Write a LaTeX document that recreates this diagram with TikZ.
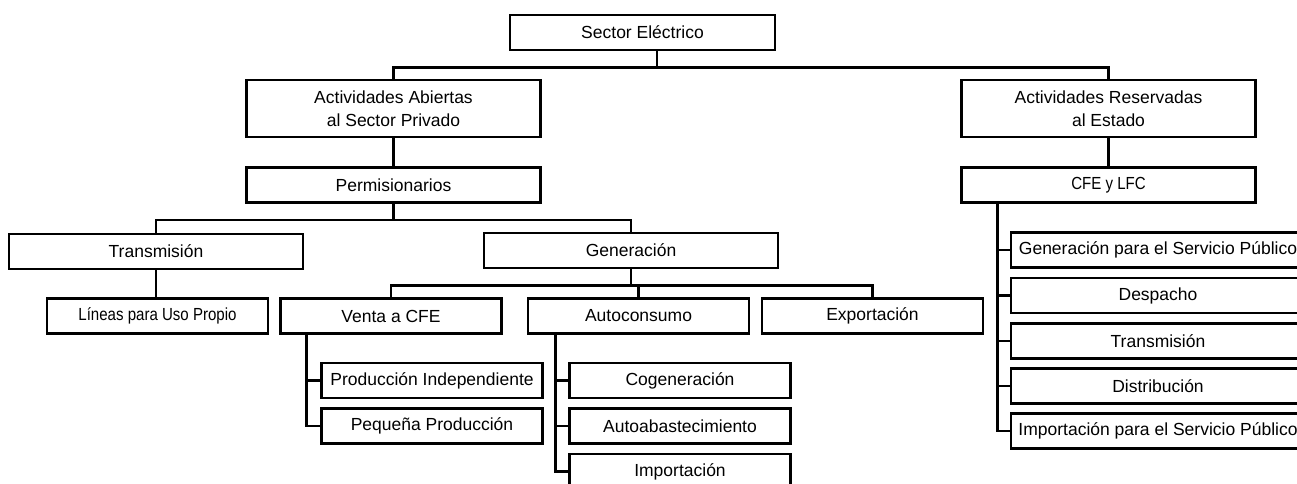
\documentclass[tikz,border=0pt]{standalone}
\usepackage{fontspec}
\usepackage{graphicx}
\setmainfont{Liberation Sans}
\newcommand{\squeezed}[1]{\scalebox{0.86}[1]{#1}}

\begin{document}
\begin{tikzpicture}[x=1pt, y=-1pt, line width=2.9pt,
    box/.style={draw, inner sep=0pt, align=center, minimum height=35pt,
      font=\fontsize{17.5}{23}\selectfont},
    wide/.style={box, minimum width=294pt},
    narrow/.style={box, minimum width=221pt}]
  \clip (0,0) rectangle (1297,483);
  \node[box, minimum width=265pt] (sector) at (642.5,32.5) {Sector Eléctrico};
  \node[wide, minimum height=57pt] (abiertas) at (393.5,108.5)
    {Actividades Abiertas\\al Sector Privado};
  \node[wide, minimum height=57pt] (reservadas) at (1108.5,108.5)
    {Actividades Reservadas\\al Estado};
  \node[wide] (permis) at (393.5,185) {Permisionarios};
  \node[wide] (cfe) at (1108.5,185) {\squeezed{CFE y LFC}};
  \node[wide] (transm) at (156,251.5) {Transmisión};
  \node[wide] (gen) at (631,250.5) {Generación};
  \node[narrow] (lineas) at (157.5,316) {\squeezed{Líneas para Uso Propio}};
  \node[narrow] (venta) at (391,316) {Venta a CFE};
  \node[narrow] (auto) at (638.5,316) {Autoconsumo};
  \node[narrow] (export) at (872.5,316) {Exportación};
  \node[narrow] (prodind) at (432,380.5) {Producción Independiente};
  \node[narrow] (pequena) at (432,426) {Pequeña Producción};
  \node[narrow] (cogen) at (680,380.5) {Cogeneración};
  \node[narrow] (autoab) at (680,426) {Autoabastecimiento};
  \node[narrow] (import) at (680,471.5) {Importación};
  \node[wide] (gensp) at (1158,250) {Generación para el Servicio Público};
  \node[wide] (despacho) at (1158,295.5) {Despacho};
  \node[wide] (transmsp) at (1158,341) {Transmisión};
  \node[wide] (distrib) at (1158,386) {Distribución};
  \node[wide] (importsp) at (1158,431) {Importación para el Servicio Público};

  \draw ([xshift=14.5pt]sector.south) -- ++(0,16) coordinate (j1);
  \draw (abiertas.north) |- (j1) -| (reservadas.north);
  \draw (abiertas.south) -- (permis.north);
  \draw (reservadas.south) -- (cfe.north);

  \draw (permis.south) -- ++(0,16) coordinate (j2);
  \draw (transm.north) |- (j2) -| (gen.north);
  \draw (transm.south) -- (transm.south |- lineas.north);

  \draw (gen.south) -- ++(0,16) coordinate (j3);
  \draw (venta.north) |- (j3) -| (export.north);
  \draw (auto.north) -- (auto.north |- j3);

  \coordinate (v1) at ([xshift=27pt]venta.south west);
  \draw (v1) |- (pequena.west);
  \draw (prodind.west) -- (prodind.west -| v1);

  \coordinate (v2) at ([xshift=29pt]auto.south west);
  \draw (v2) |- (import.west);
  \draw (cogen.west) -- (cogen.west -| v2);
  \draw (autoab.west) -- (autoab.west -| v2);

  \coordinate (v3) at ([xshift=37pt]cfe.south west);
  \draw (v3) |- (importsp.west);
  \foreach \n in {gensp, despacho, transmsp, distrib}
    \draw (\n.west) -- (\n.west -| v3);
\end{tikzpicture}
\end{document}
